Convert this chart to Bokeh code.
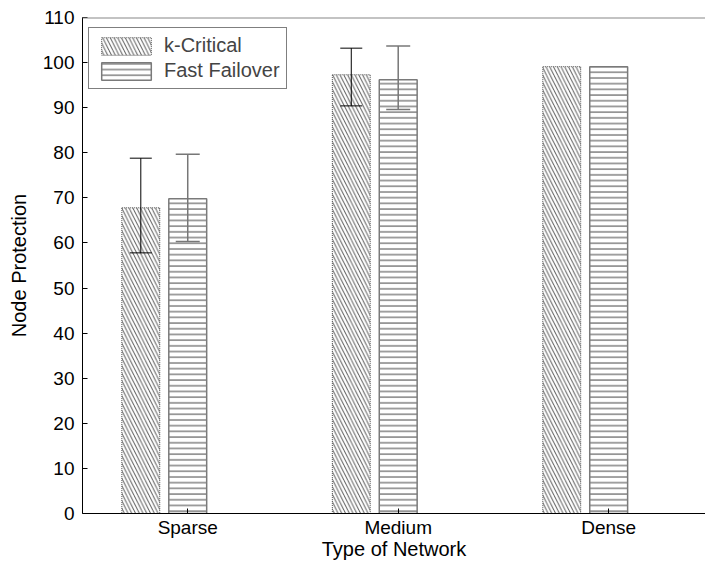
from bokeh.plotting import figure
from bokeh.models import (ColumnDataSource, FixedTicker, Span, Legend, LegendItem,
                          Whisker, TeeHead, Range1d)
from bokeh.embed import file_html
from bokeh.resources import INLINE

nan = float("nan")

# ---- data ----
categories = ["Sparse", "Medium", "Dense"]
positions = [1, 2, 3]
kcritical = [67.8, 97.3, 99.1]
kcritical_low = [57.8, 90.4, nan]
kcritical_high = [78.8, 103.2, nan]
fastfailover = [69.8, 96.2, 99.1]
fastfailover_low = [60.3, 89.6, nan]
fastfailover_high = [79.7, 103.7, nan]
yticks = list(range(0, 111, 10))

FONT = "Liberation Sans"
offset = 0.223
bar_w = 0.18

k_x = [p - offset for p in positions]
f_x = list(positions)

src_k = ColumnDataSource(dict(x=k_x, top=kcritical, lo=kcritical_low, hi=kcritical_high))
src_f = ColumnDataSource(dict(x=f_x, top=fastfailover, lo=fastfailover_low, hi=fastfailover_high))

p = figure(width=705, height=570, output_backend="svg", toolbar_location=None,
           x_range=Range1d(0.5, 3.46), y_range=Range1d(0, 110),
           min_border_left=82, min_border_top=17, min_border_right=0, min_border_bottom=57)
p.outline_line_color = None
p.background_fill_color = "white"
p.border_fill_color = "white"
p.xgrid.visible = False
p.ygrid.visible = False

rk = p.vbar(x="x", top="top", width=bar_w, source=src_k, fill_color="white",
            line_color="#555555", line_dash="1 1", line_width=1,
            hatch_pattern="left_diagonal_line", hatch_color="#5a5a5a",
            hatch_scale=7.5, hatch_weight=1)
rf = p.vbar(x="x", top="top", width=bar_w, source=src_f, fill_color="white",
            line_color="#7a7a7a", line_width=1.5,
            hatch_pattern="horizontal_line", hatch_color="#444444",
            hatch_scale=5.7, hatch_weight=1)

wk = Whisker(base="x", lower="lo", upper="hi", source=src_k, line_color="black", line_width=1,
             level="overlay",
             upper_head=TeeHead(size=22, line_color="black", line_width=1),
             lower_head=TeeHead(size=22, line_color="black", line_width=1))
wf = Whisker(base="x", lower="lo", upper="hi", source=src_f, line_color="#777777", line_width=1.5,
             level="overlay",
             upper_head=TeeHead(size=24, line_color="#777777", line_width=1.5),
             lower_head=TeeHead(size=24, line_color="#777777", line_width=1.5))
p.add_layout(wk)
p.add_layout(wf)

p.add_layout(Span(location=110, dimension="width", line_color="#888888", line_width=2))

# axes
p.yaxis.ticker = FixedTicker(ticks=yticks)
p.xaxis.ticker = FixedTicker(ticks=positions)
p.xaxis.major_label_overrides = {pos: c for pos, c in zip(positions, categories)}
for ax in (p.xaxis, p.yaxis):
    ax.major_tick_in = 5
    ax.major_tick_out = 0
    ax.minor_tick_line_color = None
    ax.axis_line_color = "black"
    ax.major_tick_line_color = "black"
    ax.major_label_text_font = FONT
    ax.major_label_text_font_size = "19px"
    ax.major_label_text_color = "black"
    ax.axis_label_text_font = FONT
    ax.axis_label_text_font_size = "20px"
    ax.axis_label_text_font_style = "normal"
    ax.axis_label_text_color = "black"
p.yaxis.major_label_standoff = 8
p.xaxis.major_label_standoff = 3
p.yaxis.axis_label = "Node Protection"
p.xaxis.axis_label = "Type of Network"
p.yaxis.axis_label_standoff = 10
p.xaxis.axis_label_standoff = -3

legend = Legend(items=[LegendItem(label="k-Critical", renderers=[rk]),
                       LegendItem(label="Fast Failover", renderers=[rf])],
                location=(6, 424), glyph_width=62, glyph_height=22, label_standoff=7,
                padding=6, spacing=2, margin=0,
                label_text_font=FONT, label_text_font_size="20px",
                border_line_color="black", border_line_width=1,
                background_fill_color="white", background_fill_alpha=1)
p.add_layout(legend)

open("out.html", "w").write(file_html(p, INLINE))
